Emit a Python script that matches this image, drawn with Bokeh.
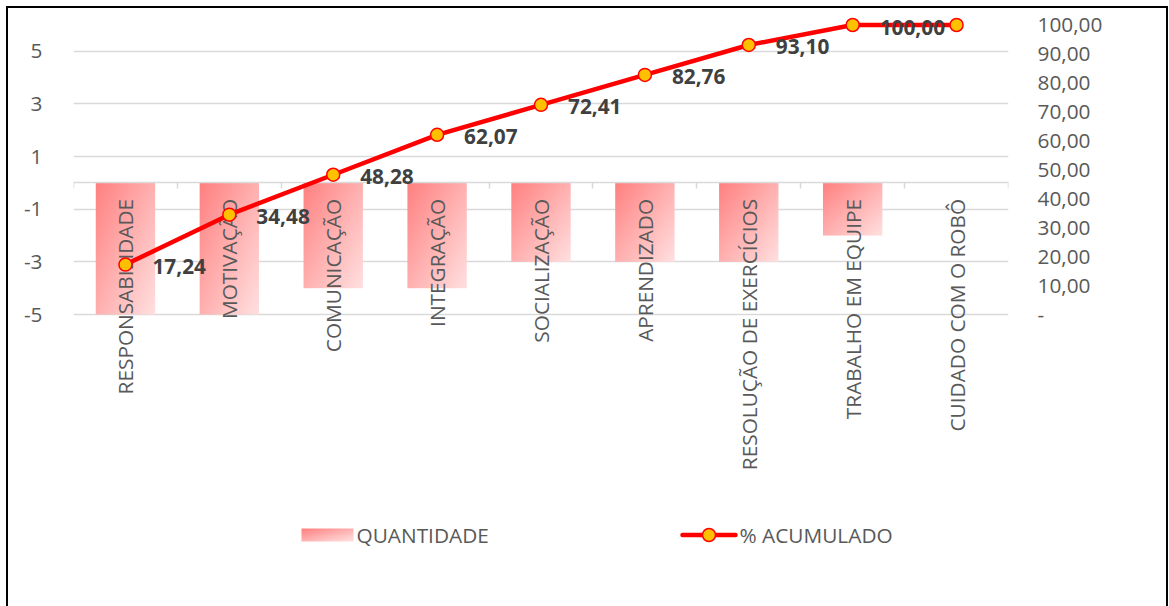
import math
import numpy as np
from bokeh.plotting import figure
from bokeh.models import (Range1d, LinearAxis, FixedTicker, CustomJSTickFormatter,
                          ColumnDataSource)
from bokeh.embed import file_html
from bokeh.resources import INLINE
from bokeh.core.properties import value

# ---- data -------------------------------------------------------------
categorias = ["RESPONSABILIDADE", "MOTIVAÇÃO", "COMUNICAÇÃO", "INTEGRAÇÃO",
              "SOCIALIZAÇÃO", "APRENDIZADO", "RESOLUÇÃO DE EXERCÍCIOS",
              "TRABALHO EM EQUIPE", "CUIDADO COM O ROBÔ"]
quantidade = [-5, -5, -4, -4, -3, -3, -3, -2, 0]
acumulado = [17.24, 34.48, 48.28, 62.07, 72.41, 82.76, 93.10, 100.00, 100.00]
ticks_quantidade = [-5, -3, -1, 1, 3, 5]
ticks_acumulado = [0, 10, 20, 30, 40, 50, 60, 70, 80, 90, 100]
legenda = ["QUANTIDADE", "% ACUMULADO"]

# ---- style ------------------------------------------------------------
FONTE = "Open Sans"
TAM = "20.8px"
COR_TEXTO = "#595959"
COR_ROTULO = "#404040"
COR_GRADE = "#D9D9D9"
VERMELHO = "#FF0000"
AMARELO = "#FFC000"
ROSA_INICIO = (255, 128, 128)
ROSA_FIM = (255, 224, 224)

# ---- page-pixel layout ------------------------------------------------
MARGEM = 8
LARG, ALT = 1158, 598
AREA_ESQ, AREA_DIR = 73, 1008       # plot area, page x
AREA_TOPO, AREA_BASE = 16, 606      # drawable area, page y (runs down to legend)
EIXO_TOPO, EIXO_BASE = 24.5, 314    # page y of the axes' max / min
Q_MIN, Q_MAX = -5, 6
P_MIN, P_MAX = 0, 100
LEG_Y = AREA_BASE - 534.5           # legend row, measured up from the bottom


def estender(lo, hi):
    """Range that keeps lo..hi between EIXO_BASE and EIXO_TOPO."""
    escala = (hi - lo) / (EIXO_BASE - EIXO_TOPO)
    return (lo - (AREA_BASE - EIXO_BASE) * escala,
            hi + (EIXO_TOPO - AREA_TOPO) * escala)


def gradiente(nx, ny):
    """Diagonal pink fill, dark at top-left, pale at bottom-right."""
    u = np.linspace(0, 1, nx)[None, :]
    v = np.linspace(1, 0, ny)[:, None]      # row 0 is the bottom edge
    t = (u + v) / 2
    img = np.empty((ny, nx), dtype=np.uint32)
    px = img.view(dtype=np.uint8).reshape((ny, nx, 4))
    for k in range(3):
        px[:, :, k] = np.round(ROSA_INICIO[k] + (ROSA_FIM[k] - ROSA_INICIO[k]) * t)
    px[:, :, 3] = 255
    return img


n = len(categorias)
centros = np.arange(n) + 0.5
y_lo, y_hi = estender(Q_MIN, Q_MAX)
p_lo, p_hi = estender(P_MIN, P_MAX)

p = figure(width=LARG, height=ALT, x_range=Range1d(0, n), y_range=Range1d(y_lo, y_hi),
           x_axis_location=None, output_backend="svg", toolbar_location=None,
           min_border_left=AREA_ESQ - MARGEM,
           min_border_right=MARGEM + LARG - AREA_DIR,
           min_border_top=AREA_TOPO - MARGEM,
           min_border_bottom=MARGEM + ALT - AREA_BASE,
           outline_line_color=None, background_fill_color="white",
           border_fill_color="white")
p.margin = (MARGEM, 0, 0, MARGEM)
p.styles = {"outline": "2px solid #000000"}

p.extra_y_ranges = {"pct": Range1d(p_lo, p_hi),
                    "tela_y": Range1d(0, AREA_BASE - AREA_TOPO)}
p.extra_x_ranges = {"tela_x": Range1d(AREA_ESQ, AREA_DIR)}

# grid
for g in p.xgrid:
    g.visible = False
p.ygrid.ticker = FixedTicker(ticks=ticks_quantidade)
p.ygrid.grid_line_color = COR_GRADE
p.ygrid.grid_line_width = 1.5

# left axis
ya = p.yaxis[0]
ya.ticker = FixedTicker(ticks=ticks_quantidade)
ya.formatter = CustomJSTickFormatter(code="return String(tick);")
ya.axis_line_color = None
ya.major_tick_line_color = None
ya.minor_tick_line_color = None
ya.major_label_standoff = 25
ya.major_label_text_font = FONTE
ya.major_label_text_font_size = TAM
ya.major_label_text_color = COR_TEXTO

# right axis
yd = LinearAxis(y_range_name="pct", ticker=FixedTicker(ticks=ticks_acumulado),
                formatter=CustomJSTickFormatter(
                    code="return tick == 0 ? '-' : tick.toFixed(2).replace('.', ',');"),
                axis_line_color=None, major_tick_line_color=None,
                minor_tick_line_color=None, major_label_standoff=23,
                major_label_text_font=FONTE, major_label_text_font_size=TAM,
                major_label_text_color=COR_TEXTO)
p.add_layout(yd, "right")

# category axis line at zero with ticks between categories
eixo_zero = LinearAxis(fixed_location=0, ticker=FixedTicker(ticks=list(range(n + 1))),
                       formatter=CustomJSTickFormatter(code="return '';"),
                       axis_line_color=COR_GRADE, axis_line_width=1.5,
                       major_tick_line_color=COR_GRADE, major_tick_line_width=1.5,
                       major_tick_in=0, major_tick_out=6,
                       minor_tick_line_color=None)
p.add_layout(eixo_zero, "below")

# category names, vertical, hanging below the zero line
eixo_nomes = LinearAxis(fixed_location=0, ticker=FixedTicker(ticks=list(centros)),
                        formatter=CustomJSTickFormatter(
                            args=dict(nomes=categorias),
                            code="const i = Math.floor(tick); return (i >= 0 && i < nomes.length) ? nomes[i] : '';"),
                        axis_line_color=None, major_tick_line_color=None,
                        minor_tick_line_color=None, major_tick_in=0, major_tick_out=0,
                        major_label_orientation=math.pi / 2, major_label_standoff=16,
                        major_label_text_font=FONTE, major_label_text_font_size=TAM,
                        major_label_text_color=COR_TEXTO)
p.add_layout(eixo_nomes, "below")

# bars (quantidade)
LARG_BARRA = 1 / 1.75
barras = [(c, q) for c, q in zip(centros, quantidade) if q != 0]
p.image_rgba(image=[gradiente(64, 48 * abs(q)) for c, q in barras],
             x=[c - LARG_BARRA / 2 for c, q in barras],
             y=[min(q, 0) for c, q in barras],
             dw=[LARG_BARRA] * len(barras),
             dh=[abs(q) for c, q in barras])

# cumulative percentage line
p.line(centros, acumulado, y_range_name="pct", line_color=VERMELHO, line_width=4.5,
       line_join="round", line_cap="round", level="overlay")
p.scatter(centros, acumulado, y_range_name="pct", size=13, fill_color=AMARELO,
          line_color=VERMELHO, line_width=1.5, level="overlay")

rot = ColumnDataSource(dict(x=centros[:-1], y=acumulado[:-1],
                            t=[f"{v:.2f}".replace(".", ",") for v in acumulado[:-1]]))
p.text(x="x", y="y", text="t", source=rot, y_range_name="pct", x_offset=27, y_offset=2,
       text_align="left", text_baseline="middle", text_font=value(FONTE),
       text_font_style="bold", text_font_size=TAM, text_color=COR_ROTULO, level="overlay")

# legend row
p.image_rgba(image=[gradiente(64, 16)], x=[301], y=[LEG_Y - 6.5], dw=[52], dh=[13],
             x_range_name="tela_x", y_range_name="tela_y")
p.text(x=[356], y=[LEG_Y], text=[legenda[0]], x_range_name="tela_x", y_range_name="tela_y",
       text_align="left", text_baseline="middle", text_font=value(FONTE),
       text_font_size=TAM, text_color=COR_TEXTO)
p.line(x=[682, 735], y=[LEG_Y, LEG_Y], x_range_name="tela_x", y_range_name="tela_y",
       line_color=VERMELHO, line_width=4.5, line_cap="round")
p.scatter(x=[708.5], y=[LEG_Y], x_range_name="tela_x", y_range_name="tela_y", size=13,
          fill_color=AMARELO, line_color=VERMELHO, line_width=1.5)
p.text(x=[739], y=[LEG_Y], text=[legenda[1]], x_range_name="tela_x", y_range_name="tela_y",
       text_align="left", text_baseline="middle", text_font=value(FONTE),
       text_font_size=TAM, text_color=COR_TEXTO)

open("out.html", "w").write(file_html(p, INLINE))
